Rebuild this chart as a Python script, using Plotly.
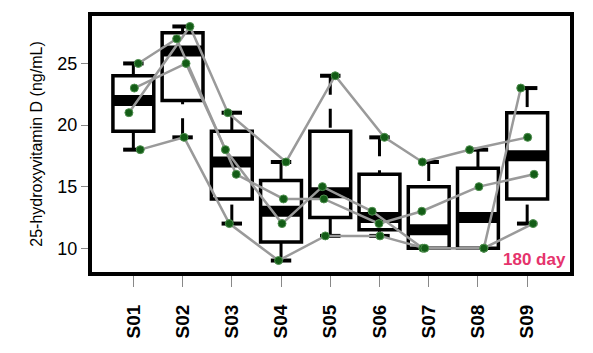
import math
import plotly.graph_objects as go

categories = ["S01", "S02", "S03", "S04", "S05", "S06", "S07", "S08", "S09"]

# one series per individual, values across the nine samples
subject_a = [25, 27, 16, 14, 14, 12, 13, 15, 16]
subject_b = [23, 25, 18, 12, 15, 13, 10, 10, 23]
subject_c = [21, 28, 21, 17, 24, 19, 17, 18, 19]
subject_d = [18, 19, 12, 9, 11, 11, 10, 10, 12]

# horizontal jitter of the plotted points (in category units)
jitter_a = [0.10, -0.12, 0.09, 0.05, -0.13, -0.01, -0.14, 0.02, 0.14]
jitter_b = [0.02, 0.07, -0.13, 0.02, -0.16, -0.15, -0.12, 0.12, -0.13]
jitter_c = [-0.09, 0.15, -0.08, 0.10, 0.10, 0.10, -0.13, -0.17, 0.01]
jitter_d = [0.14, 0.03, -0.05, -0.05, -0.10, 0.01, -0.08, 0.12, 0.12]

y_ticks = [10, 15, 20, 25]

series = [subject_a, subject_b, subject_c, subject_d]
jitters = [jitter_a, jitter_b, jitter_c, jitter_d]


def fivenum(vals):
    x = sorted(vals)
    n = len(x)
    n4 = math.floor((n + 3) / 2) / 2
    d = [1, n4, (n + 1) / 2, n + 1 - n4, n]
    return [0.5 * (x[math.floor(v) - 1] + x[math.ceil(v) - 1]) for v in d]


xpos = list(range(1, len(categories) + 1))
box_w = 0.83
q1s, meds, q3s, lows, highs = [], [], [], [], []
for i in range(len(categories)):
    vals = [s[i] for s in series]
    f = fivenum(vals)
    iqr = f[3] - f[1]
    lo = min(v for v in vals if v >= f[1] - 1.5 * iqr)
    hi = max(v for v in vals if v <= f[3] + 1.5 * iqr)
    q1s.append(f[1]); meds.append(f[2]); q3s.append(f[3])
    lows.append(lo); highs.append(hi)

fig = go.Figure()

# box bodies (whiskers drawn separately, dashed as in R)
fig.add_trace(go.Box(
    x=xpos, q1=q1s, median=meds, q3=q3s, lowerfence=q1s, upperfence=q3s,
    width=box_w, whiskerwidth=0, fillcolor="white",
    line=dict(color="black", width=3.5), boxpoints=False, hoverinfo="skip",
    showlegend=False,
))

# thick median bars
mx, my = [], []
for x, m in zip(xpos, meds):
    mx += [x - box_w / 2, x + box_w / 2, None]
    my += [m, m, None]
fig.add_trace(go.Scatter(x=mx, y=my, mode="lines",
                         line=dict(color="black", width=11),
                         showlegend=False, hoverinfo="skip"))

# dashed whiskers (drawn from the extreme toward the hinge)
wx, wy = [], []
for x, lo, q1, q3, hi in zip(xpos, lows, q1s, q3s, highs):
    if hi > q3:
        wx += [x, x, None]; wy += [hi, q3, None]
    if lo < q1:
        wx += [x, x, None]; wy += [lo, q1, None]
fig.add_trace(go.Scatter(x=wx, y=wy, mode="lines",
                         line=dict(color="black", width=3, dash="19px,14px"),
                         showlegend=False, hoverinfo="skip"))

# whisker caps
cx, cy = [], []
for x, lo, q1, q3, hi in zip(xpos, lows, q1s, q3s, highs):
    if hi > q3:
        cx += [x - box_w / 4, x + box_w / 4, None]; cy += [hi, hi, None]
    if lo < q1:
        cx += [x - box_w / 4, x + box_w / 4, None]; cy += [lo, lo, None]
fig.add_trace(go.Scatter(x=cx, y=cy, mode="lines",
                         line=dict(color="black", width=4),
                         showlegend=False, hoverinfo="skip"))

# connecting lines per individual
for s, j in zip(series, jitters):
    fig.add_trace(go.Scatter(
        x=[p + dj for p, dj in zip(xpos, j)], y=s, mode="lines",
        line=dict(color="#9a9a9a", width=2.5),
        showlegend=False, hoverinfo="skip"))

# points
for s, j in zip(series, jitters):
    fig.add_trace(go.Scatter(
        x=[p + dj for p, dj in zip(xpos, j)], y=s, mode="markers",
        marker=dict(color="#135c16", size=8,
                    line=dict(color="#4f8f4f", width=1)),
        showlegend=False, hoverinfo="skip"))

fig.add_annotation(text="<b>180 day</b>", xref="paper", yref="paper",
                   x=1, y=0.048, xanchor="right", yanchor="middle",
                   xshift=-2, showarrow=False,
                   font=dict(family="Liberation Sans, Arial", size=17,
                             color="#e5336c"))

fig.update_layout(
    width=593, height=353,
    margin=dict(l=92, r=23, t=13, b=81),
    paper_bgcolor="white", plot_bgcolor="white",
    xaxis=dict(
        range=[0.16, 9.87], tickmode="array", tickvals=xpos,
        ticktext=["<b>%s</b>" % c for c in categories], tickangle=-90,
        showline=True, mirror=True, linewidth=4, linecolor="black",
        ticks="outside", ticklen=11, tickwidth=1, tickcolor="#888",
        ticklabelstandoff=10,
        tickfont=dict(family="Liberation Sans, Arial", size=19, color="black"),
        showgrid=False, zeroline=False,
    ),
    yaxis=dict(
        range=[8.07, 28.85], tickmode="array", tickvals=y_ticks,
        showline=True, mirror=True, linewidth=4, linecolor="black",
        ticks="outside", ticklen=7, tickwidth=1, tickcolor="#888",
        tickfont=dict(family="Liberation Sans Narrow, Arial Narrow, Liberation Sans",
                      size=18, color="black"),
        title=dict(text="25-hydroxyvitamin D (ng/mL)", standoff=12,
                   font=dict(family="Liberation Sans, Arial", size=16,
                             color="black")),
        showgrid=False, zeroline=False,
    ),
)

fig.write_html("out.html")
